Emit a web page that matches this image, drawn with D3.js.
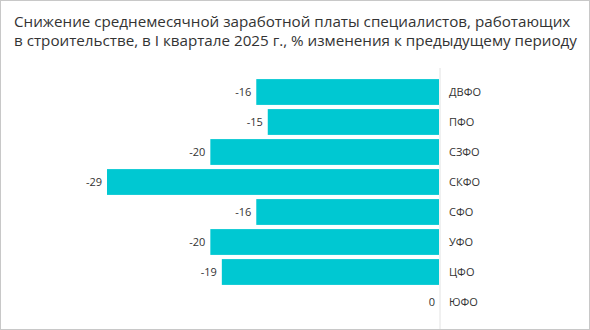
<!DOCTYPE html>
<html>
<head>
<meta charset="utf-8">
<script src="https://cdn.jsdelivr.net/npm/d3@7"></script>
<style>
  html, body { margin: 0; padding: 0; background: #fff; }
  svg { display: block; }
</style>
</head>
<body>
<div id="chart"></div>
<script>
// Federal districts and quarterly change of average monthly salary, %
const districts = ["ДВФО", "ПФО", "СЗФО", "СКФО", "СФО", "УФО", "ЦФО", "ЮФО"];
const changes = [-16, -15, -20, -29, -16, -20, -19, 0];
const titleLines = [
  "Снижение среднемесячной заработной платы специалистов, работающих",
  "в строительстве, в I квартале 2025 г., % изменения к предыдущему периоду"
];

const W = 590, H = 330;
const svg = d3.select("#chart").append("svg").attr("width", W).attr("height", H);

// frame
svg.append("rect").attr("x", 0.5).attr("y", 0.5).attr("width", W - 1).attr("height", H - 1)
  .attr("fill", "#fff").attr("stroke", "#c8c8c8");

// title
svg.append("g").selectAll("text").data(titleLines).join("text")
  .attr("x", 14).attr("y", (d, i) => 27 + i * 19)
  .attr("font-family", "'Open Sans', sans-serif").attr("font-size", 15.2)
  .attr("fill", "#333").text(d => d);

const x = d3.scaleLinear().domain([-29, 0]).range([107, 440]);
const y = d3.scaleBand().domain(districts).range([77, 317]).paddingInner(0.14).paddingOuter(0.07);

// zero line
svg.append("line").attr("x1", x(0)).attr("x2", x(0)).attr("y1", 68).attr("y2", H - 1)
  .attr("stroke", "#e2e2e2").attr("stroke-width", 1);

const data = districts.map((d, i) => ({ d, v: changes[i] }));

svg.append("g").selectAll("rect").data(data).join("rect")
  .attr("x", r => x(r.v)).attr("y", r => y(r.d))
  .attr("width", r => x(0) - x(r.v) - 1).attr("height", y.bandwidth())
  .attr("fill", "#00c8d2");

// value labels
svg.append("g").selectAll("text").data(data).join("text")
  .attr("x", r => x(r.v) - 5).attr("y", r => y(r.d) + y.bandwidth() / 2)
  .attr("dy", "0.35em").attr("text-anchor", "end")
  .attr("font-family", "'Open Sans', sans-serif").attr("font-size", 11)
  .attr("fill", "#333").text(r => r.v);

// category axis on the right
const axis = d3.axisRight(y).tickSize(0).tickPadding(9);
const ag = svg.append("g").attr("transform", `translate(${x(0)},0)`).call(axis);
ag.select(".domain").remove();
ag.selectAll("text").attr("font-family", "'Open Sans', sans-serif").attr("font-size", 11).attr("fill", "#333");
</script>
</body>
</html>
